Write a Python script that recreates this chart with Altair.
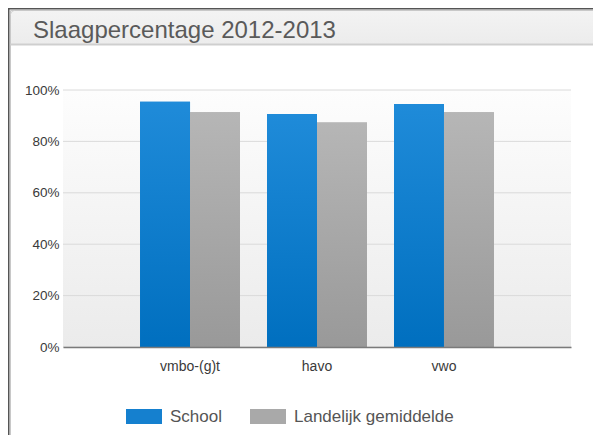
import altair as alt
import pandas as pd

# ---- data ----
categories = ["vmbo-(g)t", "havo", "vwo"]
series_names = ["School", "Landelijk gemiddelde"]
school = [95.4, 90.7, 94.6]
landelijk = [91.3, 87.4, 91.3]
y_ticks = [0, 20, 40, 60, 80, 100]
title_text = "Slaagpercentage 2012-2013"

rows = []
for c, s, l in zip(categories, school, landelijk):
    rows.append({"cat": c, "series": series_names[0], "value": s})
    rows.append({"cat": c, "series": series_names[1], "value": l})
df = pd.DataFrame(rows)
grid_df = pd.DataFrame({"value": y_ticks})

W, H = 508, 257
FONT = "Liberation Sans"

def vgrad(top, bottom):
    return alt.LinearGradient(
        gradient="linear", x1=0, y1=0, x2=0, y2=1,
        stops=[alt.GradientStop(offset=0, color=top),
               alt.GradientStop(offset=1, color=bottom)],
    )

x_enc = alt.X(
    "cat:N", sort=categories, title=None,
    scale=alt.Scale(domain=categories, paddingInner=0.213, paddingOuter=0.607),
    axis=alt.Axis(labelAngle=0, ticks=False, tickSize=0, domain=True,
                  domainColor="#7a7a7a", domainWidth=1.5, grid=False,
                  labelFontSize=14, labelColor="#3a3a3a", labelFont=FONT,
                  labelPadding=12.5, zindex=1),
)
xoff_enc = alt.XOffset("series:N", sort=series_names,
                       scale=alt.Scale(domain=series_names, paddingInner=0, paddingOuter=0))
y_enc = alt.Y(
    "value:Q", title=None,
    scale=alt.Scale(domain=[0, 100], nice=False),
    axis=alt.Axis(values=y_ticks, labelExpr="datum.value + '%'", grid=False,
                  ticks=False, domain=False, labelFontSize=13.5, labelColor="#3a3a3a",
                  labelFont=FONT, labelPadding=4, zindex=1),
)

one = alt.Data(values=[{}])

# ---- frame / title bar decorations ----
panel = alt.Chart(one).mark_rect(fill="white", stroke="#c8c8c8", strokeWidth=1).encode(
    x=alt.value(-52.5), x2=alt.value(580), y=alt.value(-79.5), y2=alt.value(420))
titlebar = alt.Chart(one).mark_rect(
    color=vgrad("#f3f3f3", "#ececec"), stroke="#c8c8c8", strokeWidth=1,
    cornerRadiusTopLeft=4).encode(
    x=alt.value(-52.5), x2=alt.value(580), y=alt.value(-79.5), y2=alt.value(-45.5))
titlebar_bottom = alt.Chart(one).mark_rule(color="#cfcfcf", strokeWidth=2).encode(
    x=alt.value(-52.5), x2=alt.value(580), y=alt.value(-45.5))
dark_left = alt.Chart(one).mark_rule(color="#555555", strokeWidth=1.5).encode(
    x=alt.value(-54.25), y=alt.value(-82), y2=alt.value(420))
dark_top = alt.Chart(one).mark_rule(color="#555555", strokeWidth=1.5).encode(
    x=alt.value(-55), x2=alt.value(580), y=alt.value(-81.25))
title = alt.Chart(one).mark_text(
    text=title_text, font=FONT, fontSize=24, color="#5a5a5a",
    align="left", baseline="alphabetic").encode(x=alt.value(-30), y=alt.value(-52.5))

# ---- plot area ----
plot_bg = alt.Chart(one).mark_rect(color=vgrad("#fdfdfd", "#ebebeb")).encode(
    x=alt.value(0), x2=alt.value(W), y=alt.value(0), y2=alt.value(H))
grid = alt.Chart(grid_df).mark_rule(color="#dadada", strokeWidth=1).encode(
    y=y_enc, x=alt.value(0), x2=alt.value(W))

bars = alt.Chart(df).mark_bar().encode(
    x=x_enc, xOffset=xoff_enc, y=y_enc,
    color=alt.Color(
        "series:N", sort=series_names,
        scale=alt.Scale(domain=series_names, range=["#1580cf", "#a9a9a9"]),
        legend=alt.Legend(
            title=None, orient="none", legendX=63, legendY=308.5,
            direction="horizontal", symbolType="M-1,-0.42H1V0.42H-1Z",
            symbolSize=1296, symbolStrokeWidth=0, labelFontSize=17,
            labelFont=FONT, labelColor="#555555", labelOffset=8,
            columnPadding=28, labelLimit=400, padding=0, zindex=1),
    ),
)
bars_school = alt.Chart(df).mark_bar(color=vgrad("#1f8bd9", "#006fbf")).encode(
    x=x_enc, xOffset=xoff_enc, y=y_enc).transform_filter(
    alt.datum.series == series_names[0])
bars_land = alt.Chart(df).mark_bar(color=vgrad("#b6b6b6", "#999999")).encode(
    x=x_enc, xOffset=xoff_enc, y=y_enc).transform_filter(
    alt.datum.series == series_names[1])

chart = alt.layer(
    panel, titlebar, titlebar_bottom, dark_left, dark_top, title,
    plot_bg, grid, bars, bars_school, bars_land,
).properties(
    width=W, height=H,
    autosize=alt.AutoSizeParams(type="none"),
    padding={"left": 55, "top": 82, "right": 22, "bottom": 88},
    background="white",
).configure_view(stroke=None)

chart.save("out.html", embed_options={"renderer": "svg", "actions": False})
